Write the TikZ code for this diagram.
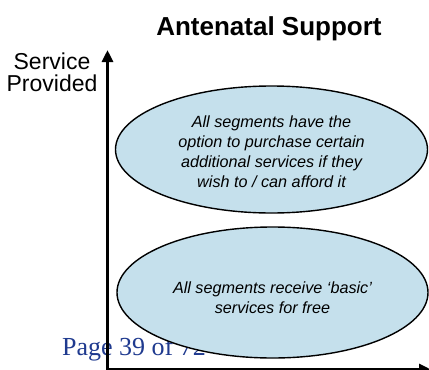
\documentclass[tikz,border=0pt]{standalone}
\usepackage{fontspec}
\setmainfont{Liberation Sans}
\newfontfamily\serifpage{Liberation Serif}
\usetikzlibrary{shapes.geometric,arrows.meta}
\definecolor{ellfill}{RGB}{197,224,236}
\definecolor{pageblue}{RGB}{31,58,143}
\tikzset{
  blob/.style={ellipse, draw=black, line width=1.4pt, fill=ellfill, inner sep=0pt,
    align=center, font=\fontsize{16.2}{20}\selectfont\itshape},
  axisline/.style={line width=3pt, -{Triangle[length=12pt,width=11pt]}},
}
\begin{document}
\begin{tikzpicture}[x=1pt,y=-1pt]
\useasboundingbox (0,0) rectangle (429,370);
% page footer text (behind)
\node[anchor=base west, inner sep=0pt, text=pageblue, font=\serifpage\fontsize{26}{30}\selectfont] (page) at (62,355) {Page 39 of 72};
% title
\node[anchor=base, inner sep=0pt, font=\fontsize{26}{30}\selectfont\bfseries] (title) at (269,35) {Antenatal Support};
% axis label
\node[anchor=base, inner sep=0pt, align=center, font=\fontsize{23}{22}\selectfont] (ylab) at (52,91) {Service\\Provided};
% axes
\coordinate (origin) at (107.5,369.5);
\coordinate (ytip) at (107.5,50);
\coordinate (xtip) at (431,369.5);
\draw[axisline] (origin) -- (ytip);
\draw[axisline] (origin) -- (xtip);
% ellipses
\node[blob, minimum width=312pt, minimum height=127pt] (upper) at (271.5,149.5)
  {\rule{0pt}{16pt}All segments have the\\option to purchase certain\\additional services if they\\wish to / can afford it};
\node[blob, minimum width=311pt, minimum height=131pt] (lower) at (272.5,292.5)
  {\rule{0pt}{22pt}All segments receive ‘basic’\\services for free};
\end{tikzpicture}
\end{document}
